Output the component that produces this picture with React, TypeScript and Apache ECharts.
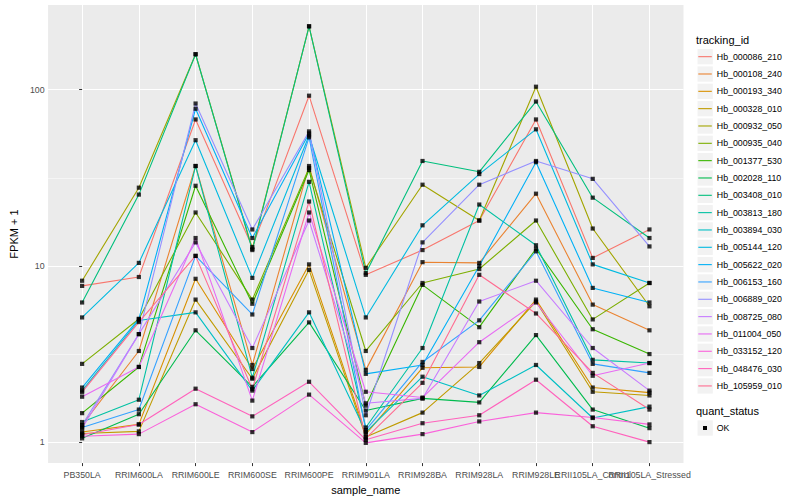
import React, { useEffect, useRef } from "react";
import * as echarts from "echarts";

const categories = [
  "PB350LA", "RRIM600LA", "RRIM600LE", "RRIM600SE", "RRIM600PE", "RRIM901LA",
  "RRIM928BA", "RRIM928LA", "RRIM928LE", "RRII105LA_Control", "RRII105LA_Stressed",
];

const trackingIds = [
  "Hb_000086_210", "Hb_000108_240", "Hb_000193_340", "Hb_000328_010", "Hb_000932_050",
  "Hb_000935_040", "Hb_001377_530", "Hb_002028_110", "Hb_003408_010", "Hb_003813_180",
  "Hb_003894_030", "Hb_005144_120", "Hb_005622_020", "Hb_006153_160", "Hb_006889_020",
  "Hb_008725_080", "Hb_011004_050", "Hb_033152_120", "Hb_048476_030", "Hb_105959_010",
];

const lineColors = [
  "#F8766D", "#EA8331", "#D89000", "#C09B00", "#A3A500", "#7CAE00", "#39B600", "#00BB4E",
  "#00BF7D", "#00C1A3", "#00BFC4", "#00BAE0", "#00B0F6", "#35A2FF", "#9590FF", "#C77CFF",
  "#E76BF3", "#FA62DB", "#FF62BC", "#FF6C91",
];

const s01 = [7.7, 8.65, 67.8, 12.8, 92.5, 8.9, 12.3, 18.1, 67.8, 11.1, 16.1];
const s02 = [1.25, 3.29, 36.9, 2.74, 36.9, 2.57, 10.5, 10.4, 25.7, 6.03, 4.31];
const s03 = [1.14, 1.26, 8.45, 2.6, 10.2, 1.11, 2.64, 2.67, 6.44, 2.04, 1.91];
const s04 = [1.12, 1.15, 6.44, 2.29, 9.5, 1.07, 1.47, 2.81, 6.28, 1.93, 1.84];
const s05 = [8.24, 27.8, 159, 12.5, 229, 9.75, 28.9, 18.1, 104, 16.3, 5.9];
const s06 = [2.78, 5.0, 20.1, 6.44, 36, 3.29, 8.0, 9.6, 18.1, 4.97, 8.0];
const s07 = [1.46, 2.67, 28.5, 6.1, 35, 1.61, 7.8, 4.49, 12.5, 4.37, 3.16];
const s08 = [1.05, 1.44, 4.31, 2.06, 4.78, 1.51, 1.77, 1.68, 4.05, 1.53, 1.2];
const s09 = [6.2, 25.4, 159, 12.3, 229, 9.1, 39.4, 34.2, 85.7, 24.4, 14.4];
const s10 = [1.3, 1.74, 36.9, 2.32, 30, 1.21, 3.42, 22.3, 13.1, 2.93, 2.81];
const s11 = [1.96, 4.9, 5.45, 1.96, 5.45, 1.14, 2.35, 1.84, 2.74, 1.37, 1.59];
const s12 = [5.1, 10.4, 51.7, 8.55, 55, 5.1, 17, 33.2, 59.6, 10.2, 8.0];
const s13 = [2.04, 5.0, 78, 14.4, 56.5, 2.44, 2.74, 10.0, 38.8, 7.5, 6.2];
const s14 = [1.21, 1.53, 11.4, 5.3, 53.7, 1.17, 2.85, 4.91, 12.1, 2.78, 2.47];
const s15 = [1.25, 4.1, 83.5, 16.1, 58, 1.42, 13.6, 28.9, 39.4, 31.2, 12.9];
const s16 = [1.2, 4.1, 13.6, 3.42, 18.1, 1.66, 1.77, 6.28, 8.24, 3.42, 1.96];
const s17 = [1.81, 2.67, 14.4, 1.72, 20.1, 1.93, 1.79, 3.69, 6.2, 2.38, 2.81];
const s18 = [1.08, 1.11, 1.64, 1.14, 1.86, 0.99, 1.11, 1.31, 1.47, 1.38, 1.26];
const s19 = [1.1, 1.26, 2.01, 1.4, 2.2, 1.03, 1.28, 1.42, 2.26, 1.23, 1.0];
const s20 = [1.92, 4.8, 11.4, 2.0, 23.2, 1.05, 2.17, 8.9, 5.37, 2.47, 1.53];

const seriesValues = [s01, s02, s03, s04, s05, s06, s07, s08, s09, s10, s11, s12, s13, s14, s15, s16, s17, s18, s19, s20];

const yTicks = [1, 10, 100];
const yMinorBreaks = [3.1623, 31.623];
const yLimits = [0.76, 302.6];
const xLimits = [-0.6, 10.6];
const quantStatus = ["OK"];

const FONT = '"Liberation Sans", Arial, Helvetica, sans-serif';

export default function App() {
  const ref = useRef<HTMLDivElement>(null);

  useEffect(() => {
    document.body.style.margin = "0";
    if (!ref.current) return;
    const chart = echarts.init(ref.current, null, { renderer: "svg" });

    const catIdx = categories.map((_, i) => i);
    const evenIdx = catIdx.filter((i) => i % 2 === 0);
    const oddIdx = catIdx.filter((i) => i % 2 === 1);

    const lineSeries = trackingIds.map((name, k) => ({
      type: "line",
      name,
      data: seriesValues[k].map((v, i) => [i, v]),
      showSymbol: false,
      symbol: "none",
      lineStyle: { color: lineColors[k], width: 1.1 },
      itemStyle: { color: lineColors[k] },
      emphasis: { disabled: true },
      silent: true,
      z: 2,
    }));

    const points: number[][] = [];
    seriesValues.forEach((arr) => arr.forEach((v, i) => points.push([i, v])));

    const graphic: any[] = [
      {
        type: "text",
        left: 696,
        top: 34,
        style: { text: "tracking_id", fontSize: 11, fill: "#000", fontFamily: FONT },
      },
      {
        type: "text",
        left: 696,
        top: 405.5,
        style: { text: "quant_status", fontSize: 11, fill: "#000", fontFamily: FONT },
      },
    ];
    trackingIds.forEach((_, k) => {
      graphic.push({
        type: "rect",
        shape: { x: 697.5, y: 56.7 - 7.65 + 17.33 * k, width: 15.3, height: 15.3 },
        style: { fill: "#F2F2F2" },
        z: -1,
        silent: true,
      });
    });
    graphic.push({
      type: "rect",
      shape: { x: 697.5, y: 428 - 7.65, width: 15.3, height: 15.3 },
      style: { fill: "#F2F2F2" },
      silent: true,
    });
    graphic.push({
      type: "rect",
      shape: { x: 703, y: 426, width: 4, height: 4 },
      style: { fill: "#000" },
      silent: true,
    });
    graphic.push({
      type: "text",
      left: 716.7,
      top: 423.5,
      style: { text: quantStatus[0], fontSize: 8.8, fill: "#000", fontFamily: FONT },
    });

    const xLabelBase = {
      formatter: (v: number) => categories[Math.round(v)] ?? "",
      color: "#4D4D4D",
      fontSize: 8.8,
      margin: 7,
      showMinLabel: true,
      showMaxLabel: true,
      hideOverlap: false,
      fontFamily: FONT,
    };

    const option: any = {
      animation: false,
      backgroundColor: "#FFFFFF",
      textStyle: { fontFamily: FONT },
      grid: {
        left: 40,
        top: 5,
        width: 643.5,
        height: 463.5,
        show: true,
        backgroundColor: "#EBEBEB",
        borderWidth: 0,
      },
      xAxis: [
        {
          type: "value",
          position: "bottom",
          min: xLimits[0],
          max: xLimits[1],
          axisLine: { show: false },
          axisTick: { show: true, customValues: catIdx, length: 3, lineStyle: { color: "#333333", width: 1 } },
          axisLabel: { ...xLabelBase, customValues: evenIdx },
          splitLine: { show: true, lineStyle: { color: "#FFFFFF", width: 1.07 } },
          name: "sample_name",
          nameLocation: "middle",
          nameGap: 12,
          nameTextStyle: { color: "#000", fontSize: 11, fontFamily: FONT },
        },
        {
          type: "value",
          position: "bottom",
          offset: 0,
          min: xLimits[0],
          max: xLimits[1],
          axisLine: { show: false },
          axisTick: { show: false, customValues: oddIdx },
          axisLabel: { ...xLabelBase, customValues: oddIdx },
          splitLine: { show: false },
        },
      ],
      yAxis: [
        {
          type: "log",
          logBase: 10,
          min: yLimits[0],
          max: yLimits[1],
          axisLine: { show: false },
          axisTick: { show: true, customValues: yTicks, length: 3, lineStyle: { color: "#333333", width: 1 } },
          axisLabel: {
            customValues: yTicks,
            formatter: (v: number) => String(Math.round(v)),
            color: "#4D4D4D",
            fontSize: 8.8,
            margin: 3.5,
            fontFamily: FONT,
          },
          splitLine: { show: true, lineStyle: { color: "#FFFFFF", width: 1.07 } },
          name: "FPKM + 1",
          nameLocation: "middle",
          nameGap: 24,
          nameTextStyle: { color: "#000", fontSize: 11, fontFamily: FONT },
        },
        {
          type: "log",
          logBase: 10,
          min: yLimits[0],
          max: yLimits[1],
          position: "left",
          axisLine: { show: false },
          axisTick: { show: false, customValues: yMinorBreaks },
          axisLabel: { show: false, customValues: yMinorBreaks },
          splitLine: { show: true, lineStyle: { color: "#FFFFFF", width: 0.53 } },
        },
      ],
      legend: {
        orient: "vertical",
        left: 698.3,
        top: 48,
        padding: 0,
        itemGap: 0,
        itemWidth: 13.5,
        itemHeight: 1.1,
        selectedMode: false,
        textStyle: { fontSize: 8.8, color: "#000", lineHeight: 17.33, fontFamily: FONT },
        data: trackingIds.map((name, k) => ({
          name,
          icon: "rect",
          itemStyle: { color: lineColors[k], borderWidth: 0 },
        })),
      },
      graphic,
      series: [
        ...lineSeries,
        {
          type: "scatter",
          name: quantStatus[0],
          data: points,
          symbol: "rect",
          symbolSize: 4.2,
          itemStyle: { color: "#000000" },
          silent: true,
          z: 5,
        },
      ],
    };

    chart.setOption(option);
    return () => chart.dispose();
  }, []);

  return <div ref={ref} style={{ width: 800, height: 500 }} />;
}
